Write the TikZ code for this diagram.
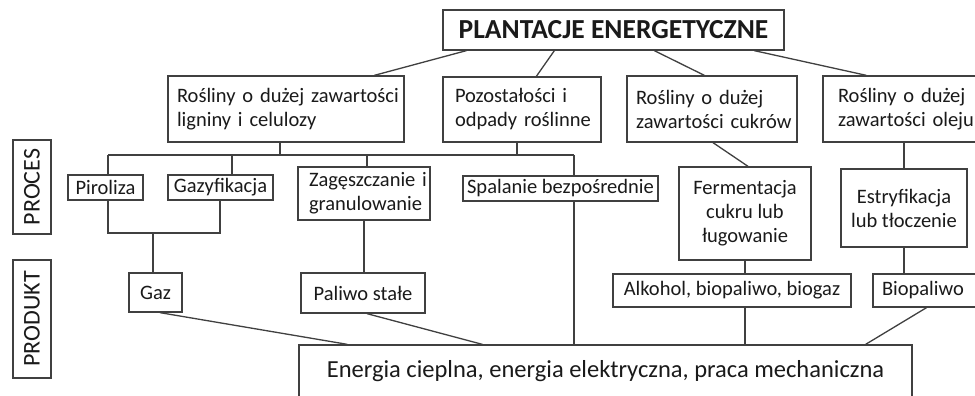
\documentclass[tikz,border=0pt]{standalone}
\usepackage{fontspec}
\setmainfont{Carlito}
\definecolor{linec}{HTML}{404040}
\definecolor{textc}{HTML}{1A1A1A}
\begin{document}
\begin{tikzpicture}[x=1pt,y=-1pt,
  box/.style={draw=linec, line width=1.3pt, text=textc, inner sep=0pt, font=\fontsize{20.5}{24}\selectfont},
  lbox/.style={box, align=left},
  cbox/.style={box, align=center},
  conn/.style={draw=linec, line width=1.3pt}]
\clip (0,0) rectangle (975,396);
\fill[white] (0,0) rectangle (975,396);
% top
\node[cbox, minimum width=341, minimum height=40, font=\fontsize{27.5}{32}\selectfont\bfseries] (top) at (613.5,30) {PLANTACJE ENERGETYCZNE};
% second row
\node[lbox, minimum height=66, inner xsep=9pt, text width=218pt] (lig) at (286,109) {\mbox{Rośliny o dużej zawartości}\\\mbox{ligniny i celulozy}};
\node[lbox, minimum height=65, inner xsep=12pt, text width=134pt] (poz) at (522,109.5) {\mbox{Pozostałości i}\\\mbox{odpady roślinne}};
\node[lbox, minimum height=66, inner xsep=9pt, text width=152pt] (cuk) at (712,109) {\mbox{Rośliny o dużej}\\\mbox{zawartości cukrów}};
\node[lbox, minimum height=66, inner xsep=15pt, text width=127pt] (ole) at (901.5,109) {\mbox{Rośliny o dużej}\\\mbox{zawartości oleju}};
% process row
\node[cbox, minimum width=75, minimum height=25] (pir) at (105.5,187.5) {Piroliza};
\node[cbox, minimum width=105, minimum height=25] (gzf) at (220.5,187.5) {Gazyfikacja};
\node[lbox, minimum height=53, inner xsep=11pt, text width=110pt] (zag) at (364,193.5) {\mbox{Zagęszczanie i}\\\mbox{granulowanie}};
\node[cbox, minimum width=195, minimum height=25] (spal) at (560.5,188.5) {Spalanie bezpośrednie};
\node[cbox, minimum width=132, minimum height=93] (ferm) at (745,213.5) {Fermentacja\\cukru lub\\ługowanie};
\node[cbox, minimum width=126, minimum height=78] (estr) at (904,208) {Estryfikacja\\lub tłoczenie};
% product row
\node[cbox, minimum width=53, minimum height=39] (gaz) at (155.5,292.5) {Gaz};
\node[cbox, minimum width=124, minimum height=40] (pal) at (363,293) {Paliwo stałe};
\node[cbox, minimum width=238, minimum height=33] (alk) at (732,290.5) {Alkohol, biopaliwo, biogaz};
\node[lbox, minimum height=33, inner xsep=9pt, text width=89pt] (bio) at (926.5,290.5) {\mbox{Biopaliwo}};
% energy
\node[cbox, minimum width=613, minimum height=55, text height=18pt, text depth=9pt, font=\fontsize{24.5}{28}\selectfont] (energia) at (605.5,372.5) {Energia cieplna, energia elektryczna, praca mechaniczna};
% side labels
\node[cbox, rotate=90, minimum width=94, minimum height=38, font=\fontsize{24}{28}\selectfont] (proces) at (32,187) {PROCES};
\node[cbox, rotate=90, minimum width=118, minimum height=38, font=\fontsize{24}{28}\selectfont] (produkt) at (32,319) {PRODUKT};
% coordinates
\coordinate (d1) at (108,155);
\coordinate (d2) at (232,155);
\coordinate (d3) at (367,155);
\coordinate (d4) at (574,155);
\coordinate (dl) at (280,155);
\coordinate (dp) at (517,155);
\coordinate (j1) at (108,233);
\coordinate (j2) at (220,233);
\coordinate (j3) at (153,233);
% connectors from top
\draw[conn] ([xshift=24pt]top.south west) -- ([xshift=207pt]lig.north west);
\draw[conn] ([xshift=112pt]top.south west) -- ([xshift=94pt]poz.north west);
\draw[conn] ([xshift=212pt]top.south west) -- ([xshift=78pt]cuk.north west);
\draw[conn] ([xshift=312pt]top.south west) -- ([xshift=44pt]ole.north west);
% bus
\draw[conn] (d1) -- (d4);
\draw[conn] (lig.south -| dl) -- (dl);
\draw[conn] (poz.south -| dp) -- (dp);
\draw[conn] (d1) -- (pir.north -| d1);
\draw[conn] (d2) -- (gzf.north -| d2);
\draw[conn] (d3) -- (zag.north -| d3);
\draw[conn] (d4) -- (spal.north -| d4);
% pir/gaz join
\draw[conn] (pir.south -| j1) -- (j1) -- (j2) -- (gzf.south -| j2);
\draw[conn] (j3) -- (gaz.north -| j3);
\draw[conn] (zag.south) -- (zag.south |- pal.north);
\draw[conn] (spal.south -| d4) -- (energia.north -| d4);
\draw[conn] ([xshift=4.5pt]gaz.south) -- ([xshift=49pt]energia.north west);
\draw[conn] ([xshift=4pt]pal.south) -- ([xshift=184pt]energia.north west);
% right side
\draw[conn] ([xshift=1pt]cuk.south) -- ([xshift=3pt]ferm.north);
\draw[conn] (ferm.south) -- (ferm.south |- alk.north);
\draw[conn] (alk.south -| ferm.south) -- (energia.north -| ferm.south);
\draw[conn] (estr.north) -- (estr.north |- ole.south);
\draw[conn] (estr.south) -- (estr.south |- bio.north);
\draw[conn] (bio.south) -- ([xshift=-47pt]energia.north east);
\end{tikzpicture}
\end{document}
